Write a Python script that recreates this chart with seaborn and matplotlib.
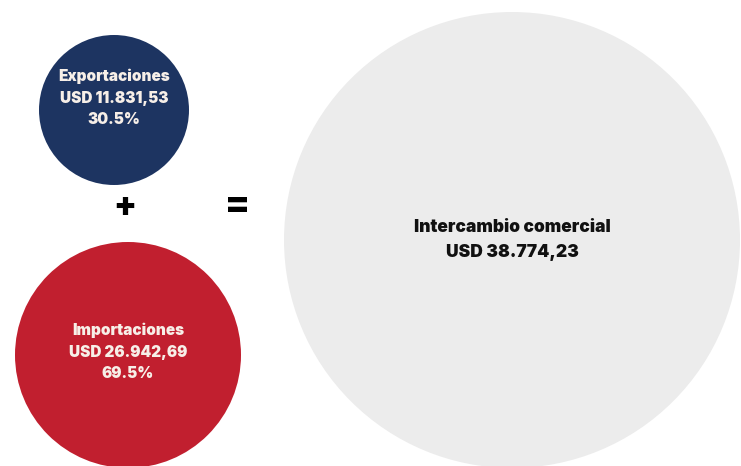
import seaborn as sns
import matplotlib.pyplot as plt
from matplotlib.patches import Circle

# datos del gráfico
etiquetas = ["Exportaciones", "Importaciones", "Intercambio comercial"]
montos = ["USD 11.831,53", "USD 26.942,69", "USD 38.774,23"]
porcentajes = ["30.5%", "69.5%", ""]

# disposición (pixeles)
centros = [(114, 110), (128, 355), (512, 240)]
pos_texto = [(114, 98), (128, 352), (512, 240)]
radios = [75, 113, 228]
colores = ["#1d3461", "#c11f2f", "#ececec"]
color_texto = ["#f7efe8", "#f7efe8", "#111111"]
tamanos = [11, 11, 12.5]

sns.set_theme(style="white")
plt.rcParams['font.family'] = ['Inter', 'DejaVu Sans']

fig = plt.figure(figsize=(7.41, 4.66), dpi=100)
ax = fig.add_axes([0, 0, 1, 1])
ax.set_xlim(0, 741)
ax.set_ylim(466, 0)
ax.set_aspect('equal')
ax.axis('off')

for i, (c, r) in enumerate(zip(centros, radios)):
    ax.add_patch(Circle(c, r, color=colores[i], lw=0))
    lineas = [etiquetas[i], montos[i]]
    if porcentajes[i]:
        lineas.append(porcentajes[i])
    texto = "\n".join(lineas)
    ax.text(pos_texto[i][0], pos_texto[i][1], texto, ha='center', va='center',
            color=color_texto[i], fontsize=tamanos[i], fontweight='black',
            linespacing=1.55)

# signos
ax.text(125, 207, "+", ha='center', va='center', fontsize=24, fontweight='black', color='black')
ax.text(238, 206, "=", ha='center', va='center', fontsize=26, fontweight='black', color='black')

fig.savefig("out.png", dpi=100)
